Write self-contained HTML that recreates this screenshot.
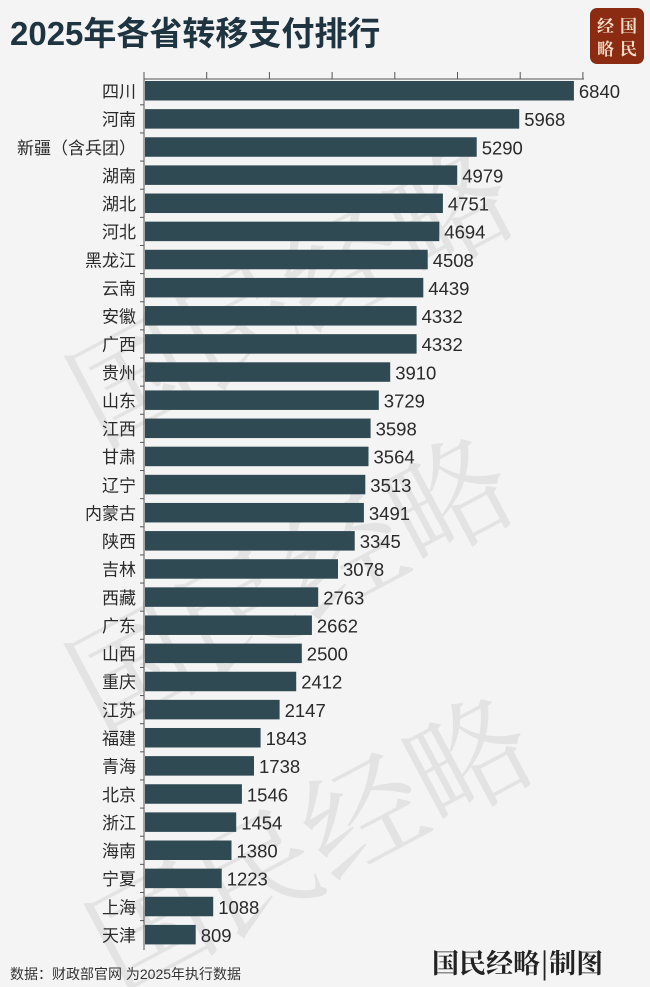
<!DOCTYPE html>
<html><head><meta charset="utf-8"><style>
body{margin:0;background:#f4f4f4;}
svg{display:block;font-family:"Liberation Sans","Noto Sans CJK SC",sans-serif;}
.n{font-size:17px;fill:#2a2a2a;text-anchor:end;}
.v{font-size:18.5px;fill:#2a2a2a;}
.b{fill:#2f4a53;}
</style></head><body>
<svg width="650" height="987" viewBox="0 0 650 987" xmlns="http://www.w3.org/2000/svg">
<rect width="650" height="987" fill="#f4f4f4"/>
<g fill="#e3e3e3" font-family="'Noto Serif CJK SC',serif" font-size="120">
<text x="30" y="330" transform="rotate(-28 300 250)">国民经略</text>
<text x="40" y="620" transform="rotate(-28 300 560)">国民经略</text>
<text x="60" y="880" transform="rotate(-28 320 820)">国民经略</text>
</g>
<text x="10" y="45" font-size="33" font-weight="bold" fill="#1e3440">2025年各省转移支付排行</text>
<rect x="590" y="8" width="54" height="56" rx="7" fill="#8b2c12"/>
<g fill="#f1dcc8" font-family="'Noto Serif CJK SC',serif" font-size="17" font-weight="bold">
<text x="597" y="32">经</text><text x="620" y="32">国</text>
<text x="597" y="55">略</text><text x="620" y="55">民</text>
</g>
<g stroke="#555" stroke-width="1">
<line x1="144" y1="79" x2="584" y2="79"/>
<line x1="144" y1="72" x2="144" y2="950"/>
<line x1="206.7" y1="72" x2="206.7" y2="79"/><line x1="269.4" y1="72" x2="269.4" y2="79"/>
<line x1="332.1" y1="72" x2="332.1" y2="79"/><line x1="394.8" y1="72" x2="394.8" y2="79"/>
<line x1="457.5" y1="72" x2="457.5" y2="79"/><line x1="520.2" y1="72" x2="520.2" y2="79"/>
<line x1="582.9" y1="72" x2="582.9" y2="79"/>
</g>
<g transform="translate(0,81)"><rect class="b" x="145" width="428.9" height="19.5"/><text class="n" x="136" y="16.5">四川</text><text class="v" x="578.9" y="17">6840</text></g>
<g transform="translate(0,109.13)"><line x1="140" x2="144" y1="-4.3" y2="-4.3" stroke="#555"/><rect class="b" x="145" width="374.2" height="19.5"/><text class="n" x="136" y="16.5">河南</text><text class="v" x="524.2" y="17">5968</text></g>
<g transform="translate(0,137.26)"><line x1="140" x2="144" y1="-4.3" y2="-4.3" stroke="#555"/><rect class="b" x="145" width="331.7" height="19.5"/><text class="n" x="136" y="16.5">新疆（含兵团）</text><text class="v" x="481.7" y="17">5290</text></g>
<g transform="translate(0,165.39)"><line x1="140" x2="144" y1="-4.3" y2="-4.3" stroke="#555"/><rect class="b" x="145" width="312.2" height="19.5"/><text class="n" x="136" y="16.5">湖南</text><text class="v" x="462.2" y="17">4979</text></g>
<g transform="translate(0,193.52)"><line x1="140" x2="144" y1="-4.3" y2="-4.3" stroke="#555"/><rect class="b" x="145" width="297.9" height="19.5"/><text class="n" x="136" y="16.5">湖北</text><text class="v" x="447.9" y="17">4751</text></g>
<g transform="translate(0,221.65)"><line x1="140" x2="144" y1="-4.3" y2="-4.3" stroke="#555"/><rect class="b" x="145" width="294.3" height="19.5"/><text class="n" x="136" y="16.5">河北</text><text class="v" x="444.3" y="17">4694</text></g>
<g transform="translate(0,249.78)"><line x1="140" x2="144" y1="-4.3" y2="-4.3" stroke="#555"/><rect class="b" x="145" width="282.7" height="19.5"/><text class="n" x="136" y="16.5">黑龙江</text><text class="v" x="432.7" y="17">4508</text></g>
<g transform="translate(0,277.91)"><line x1="140" x2="144" y1="-4.3" y2="-4.3" stroke="#555"/><rect class="b" x="145" width="278.3" height="19.5"/><text class="n" x="136" y="16.5">云南</text><text class="v" x="428.3" y="17">4439</text></g>
<g transform="translate(0,306.04)"><line x1="140" x2="144" y1="-4.3" y2="-4.3" stroke="#555"/><rect class="b" x="145" width="271.6" height="19.5"/><text class="n" x="136" y="16.5">安徽</text><text class="v" x="421.6" y="17">4332</text></g>
<g transform="translate(0,334.17)"><line x1="140" x2="144" y1="-4.3" y2="-4.3" stroke="#555"/><rect class="b" x="145" width="271.6" height="19.5"/><text class="n" x="136" y="16.5">广西</text><text class="v" x="421.6" y="17">4332</text></g>
<g transform="translate(0,362.3)"><line x1="140" x2="144" y1="-4.3" y2="-4.3" stroke="#555"/><rect class="b" x="145" width="245.2" height="19.5"/><text class="n" x="136" y="16.5">贵州</text><text class="v" x="395.2" y="17">3910</text></g>
<g transform="translate(0,390.43)"><line x1="140" x2="144" y1="-4.3" y2="-4.3" stroke="#555"/><rect class="b" x="145" width="233.8" height="19.5"/><text class="n" x="136" y="16.5">山东</text><text class="v" x="383.8" y="17">3729</text></g>
<g transform="translate(0,418.56)"><line x1="140" x2="144" y1="-4.3" y2="-4.3" stroke="#555"/><rect class="b" x="145" width="225.6" height="19.5"/><text class="n" x="136" y="16.5">江西</text><text class="v" x="375.6" y="17">3598</text></g>
<g transform="translate(0,446.69)"><line x1="140" x2="144" y1="-4.3" y2="-4.3" stroke="#555"/><rect class="b" x="145" width="223.5" height="19.5"/><text class="n" x="136" y="16.5">甘肃</text><text class="v" x="373.5" y="17">3564</text></g>
<g transform="translate(0,474.82)"><line x1="140" x2="144" y1="-4.3" y2="-4.3" stroke="#555"/><rect class="b" x="145" width="220.3" height="19.5"/><text class="n" x="136" y="16.5">辽宁</text><text class="v" x="370.3" y="17">3513</text></g>
<g transform="translate(0,502.95)"><line x1="140" x2="144" y1="-4.3" y2="-4.3" stroke="#555"/><rect class="b" x="145" width="218.9" height="19.5"/><text class="n" x="136" y="16.5">内蒙古</text><text class="v" x="368.9" y="17">3491</text></g>
<g transform="translate(0,531.08)"><line x1="140" x2="144" y1="-4.3" y2="-4.3" stroke="#555"/><rect class="b" x="145" width="209.7" height="19.5"/><text class="n" x="136" y="16.5">陕西</text><text class="v" x="359.7" y="17">3345</text></g>
<g transform="translate(0,559.21)"><line x1="140" x2="144" y1="-4.3" y2="-4.3" stroke="#555"/><rect class="b" x="145" width="193" height="19.5"/><text class="n" x="136" y="16.5">吉林</text><text class="v" x="343" y="17">3078</text></g>
<g transform="translate(0,587.34)"><line x1="140" x2="144" y1="-4.3" y2="-4.3" stroke="#555"/><rect class="b" x="145" width="173.2" height="19.5"/><text class="n" x="136" y="16.5">西藏</text><text class="v" x="323.2" y="17">2763</text></g>
<g transform="translate(0,615.47)"><line x1="140" x2="144" y1="-4.3" y2="-4.3" stroke="#555"/><rect class="b" x="145" width="166.9" height="19.5"/><text class="n" x="136" y="16.5">广东</text><text class="v" x="316.9" y="17">2662</text></g>
<g transform="translate(0,643.6)"><line x1="140" x2="144" y1="-4.3" y2="-4.3" stroke="#555"/><rect class="b" x="145" width="156.8" height="19.5"/><text class="n" x="136" y="16.5">山西</text><text class="v" x="306.8" y="17">2500</text></g>
<g transform="translate(0,671.73)"><line x1="140" x2="144" y1="-4.3" y2="-4.3" stroke="#555"/><rect class="b" x="145" width="151.2" height="19.5"/><text class="n" x="136" y="16.5">重庆</text><text class="v" x="301.2" y="17">2412</text></g>
<g transform="translate(0,699.86)"><line x1="140" x2="144" y1="-4.3" y2="-4.3" stroke="#555"/><rect class="b" x="145" width="134.6" height="19.5"/><text class="n" x="136" y="16.5">江苏</text><text class="v" x="284.6" y="17">2147</text></g>
<g transform="translate(0,727.99)"><line x1="140" x2="144" y1="-4.3" y2="-4.3" stroke="#555"/><rect class="b" x="145" width="115.6" height="19.5"/><text class="n" x="136" y="16.5">福建</text><text class="v" x="265.6" y="17">1843</text></g>
<g transform="translate(0,756.12)"><line x1="140" x2="144" y1="-4.3" y2="-4.3" stroke="#555"/><rect class="b" x="145" width="109" height="19.5"/><text class="n" x="136" y="16.5">青海</text><text class="v" x="259" y="17">1738</text></g>
<g transform="translate(0,784.25)"><line x1="140" x2="144" y1="-4.3" y2="-4.3" stroke="#555"/><rect class="b" x="145" width="96.9" height="19.5"/><text class="n" x="136" y="16.5">北京</text><text class="v" x="246.9" y="17">1546</text></g>
<g transform="translate(0,812.38)"><line x1="140" x2="144" y1="-4.3" y2="-4.3" stroke="#555"/><rect class="b" x="145" width="91.2" height="19.5"/><text class="n" x="136" y="16.5">浙江</text><text class="v" x="241.2" y="17">1454</text></g>
<g transform="translate(0,840.51)"><line x1="140" x2="144" y1="-4.3" y2="-4.3" stroke="#555"/><rect class="b" x="145" width="86.5" height="19.5"/><text class="n" x="136" y="16.5">海南</text><text class="v" x="236.5" y="17">1380</text></g>
<g transform="translate(0,868.64)"><line x1="140" x2="144" y1="-4.3" y2="-4.3" stroke="#555"/><rect class="b" x="145" width="76.7" height="19.5"/><text class="n" x="136" y="16.5">宁夏</text><text class="v" x="226.7" y="17">1223</text></g>
<g transform="translate(0,896.77)"><line x1="140" x2="144" y1="-4.3" y2="-4.3" stroke="#555"/><rect class="b" x="145" width="68.2" height="19.5"/><text class="n" x="136" y="16.5">上海</text><text class="v" x="218.2" y="17">1088</text></g>
<g transform="translate(0,924.9)"><line x1="140" x2="144" y1="-4.3" y2="-4.3" stroke="#555"/><rect class="b" x="145" width="50.7" height="19.5"/><text class="n" x="136" y="16.5">天津</text><text class="v" x="200.7" y="17">809</text></g>
<text x="10" y="979" font-size="14" fill="#333">数据：财政部官网 为2025年执行数据</text>
<text x="432" y="973" font-size="27" font-family="'Noto Serif CJK SC',serif" font-weight="bold" fill="#222">国民经略|制图</text>
</svg>
</body></html>
